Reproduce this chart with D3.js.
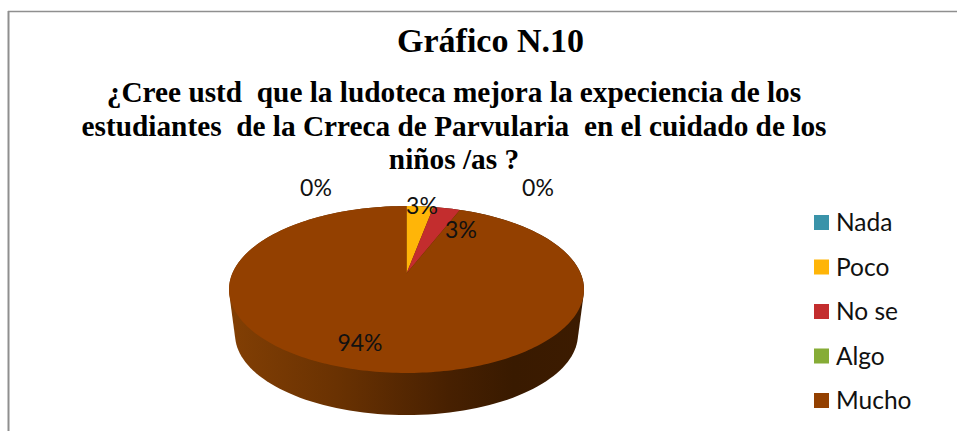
<!DOCTYPE html>
<html>
<head>
<meta charset="utf-8">
<script src="https://cdn.jsdelivr.net/npm/d3@7"></script>
<style>
html, body { margin: 0; padding: 0; background: #fff; }
svg { display: block; }
</style>
</head>
<body>
<svg width="957" height="431"></svg>
<script>
var categories = ["Nada", "Poco", "No se", "Algo", "Mucho"];
var counts = [0, 1, 1, 0, 32];
var percentLabels = ["0%", "3%", "3%", "0%", "94%"];
var colors = ["#3A93A9", "#FFB508", "#C32D2E", "#86AC36", "#934000"];
var titleLines = [
  "¿Cree ustd  que la ludoteca mejora la expeciencia de los",
  "estudiantes  de la Crreca de Parvularia  en el cuidado de los",
  "niños /as ?"
];

var svg = d3.select("svg"),
    width = +svg.attr("width"),
    height = +svg.attr("height");

var bodyFont = "Lato, 'Open Sans', sans-serif",
    titleFont = "'Liberation Serif', serif";

// frame: only top and left edges show in the picture
svg.append("line")
    .attr("x1", 8.5).attr("x2", 8.5).attr("y1", 11).attr("y2", height)
    .attr("stroke", "#8f8f8f").attr("stroke-width", 2);
svg.append("line")
    .attr("x1", 8).attr("x2", width).attr("y1", 11.5).attr("y2", 11.5)
    .attr("stroke", "#8f8f8f").attr("stroke-width", 1.5);

svg.append("text")
    .attr("x", 490.5).attr("y", 52)
    .attr("text-anchor", "middle")
    .attr("font-family", titleFont)
    .attr("font-weight", "bold")
    .attr("font-size", 34)
    .text("Gráfico N.10");

svg.selectAll(".subtitle")
    .data(titleLines)
  .enter().append("text")
    .attr("class", "subtitle")
    .attr("x", 454)
    .attr("y", function(d, i) { return 102 + i * 33.7; })
    .attr("text-anchor", "middle")
    .attr("font-family", titleFont)
    .attr("font-weight", "bold")
    .attr("font-size", 29.3)
    .style("white-space", "pre")
    .text(function(d) { return d; });

// tilted disc: projects a unit circle, back of the pie is foreshortened
var cx = 406.5, cy = 273.5, persp = 0.1916, rx = 174.2, ry = 80.4;
var bottomScale = 0.966, bottomDy = 45.5;

function project(angle, s, dy) {
  var u = Math.sin(angle), v = Math.cos(angle), w = 1 + persp * v;
  return [cx + s * rx * u / w, cy + dy - s * ry * v / w];
}

var pie = d3.pie().sort(null).value(function(d) { return d; });
var slices = pie(counts);
var line = d3.line();

var grad = svg.append("defs").append("linearGradient")
    .attr("id", "wall")
    .attr("gradientUnits", "userSpaceOnUse")
    .attr("x1", 229).attr("x2", 584).attr("y1", 0).attr("y2", 0);
grad.append("stop").attr("offset", "0").attr("stop-color", "#823F04");
grad.append("stop").attr("offset", "0.3").attr("stop-color", "#6A3202");
grad.append("stop").attr("offset", "0.62").attr("stop-color", "#472001");
grad.append("stop").attr("offset", "0.8").attr("stop-color", "#391A00");
grad.append("stop").attr("offset", "1").attr("stop-color", "#3C1B00");

// side wall: hull of the upper and lower rims, top face covers the rest
var rimAngles = d3.range(0, 360, 2).map(function(a) { return a * Math.PI / 180; });
var rimPts = rimAngles.map(function(a) { return project(a, 1, 0); })
    .concat(rimAngles.map(function(a) { return project(a, bottomScale, bottomDy); }));
svg.append("path")
    .attr("d", line(d3.polygonHull(rimPts)) + "Z")
    .attr("fill", "url(#wall)");

// top face
svg.selectAll(".slice")
    .data(slices)
  .enter().append("path")
    .attr("class", "slice")
    .attr("fill", function(d, i) { return colors[i]; })
    .attr("d", function(d) {
      if (d.endAngle - d.startAngle === 0) return null;
      var n = Math.max(2, Math.ceil((d.endAngle - d.startAngle) / 0.02));
      var pts = d3.range(n + 1).map(function(k) {
        return project(d.startAngle + (d.endAngle - d.startAngle) * k / n, 1, 0);
      });
      return line([[cx, cy]].concat(pts)) + "Z";
    });

// data labels
var labelPos = [[316, 188], [422, 206], [461, 230], [538, 188], [360, 343]];
svg.selectAll(".pct")
    .data(percentLabels)
  .enter().append("text")
    .attr("class", "pct")
    .attr("x", function(d, i) { return labelPos[i][0]; })
    .attr("y", function(d, i) { return labelPos[i][1]; })
    .attr("dy", "0.35em")
    .attr("text-anchor", "middle")
    .attr("font-family", bodyFont)
    .attr("font-size", 23)
    .attr("fill", "#111")
    .text(function(d) { return d; });

// legend
var legendY = d3.scalePoint().domain(categories).range([222.5, 400.5]);
var legend = svg.selectAll(".legend")
    .data(categories)
  .enter().append("g")
    .attr("class", "legend")
    .attr("transform", function(d) { return "translate(814," + legendY(d) + ")"; });
legend.append("rect")
    .attr("x", 0).attr("y", -7.5)
    .attr("width", 15).attr("height", 15)
    .attr("fill", function(d, i) { return colors[i]; });
legend.append("text")
    .attr("x", 22)
    .attr("dy", "0.35em")
    .attr("font-family", bodyFont)
    .attr("font-size", 24.5)
    .attr("fill", "#111")
    .text(function(d) { return d; });
</script>
</body>
</html>
